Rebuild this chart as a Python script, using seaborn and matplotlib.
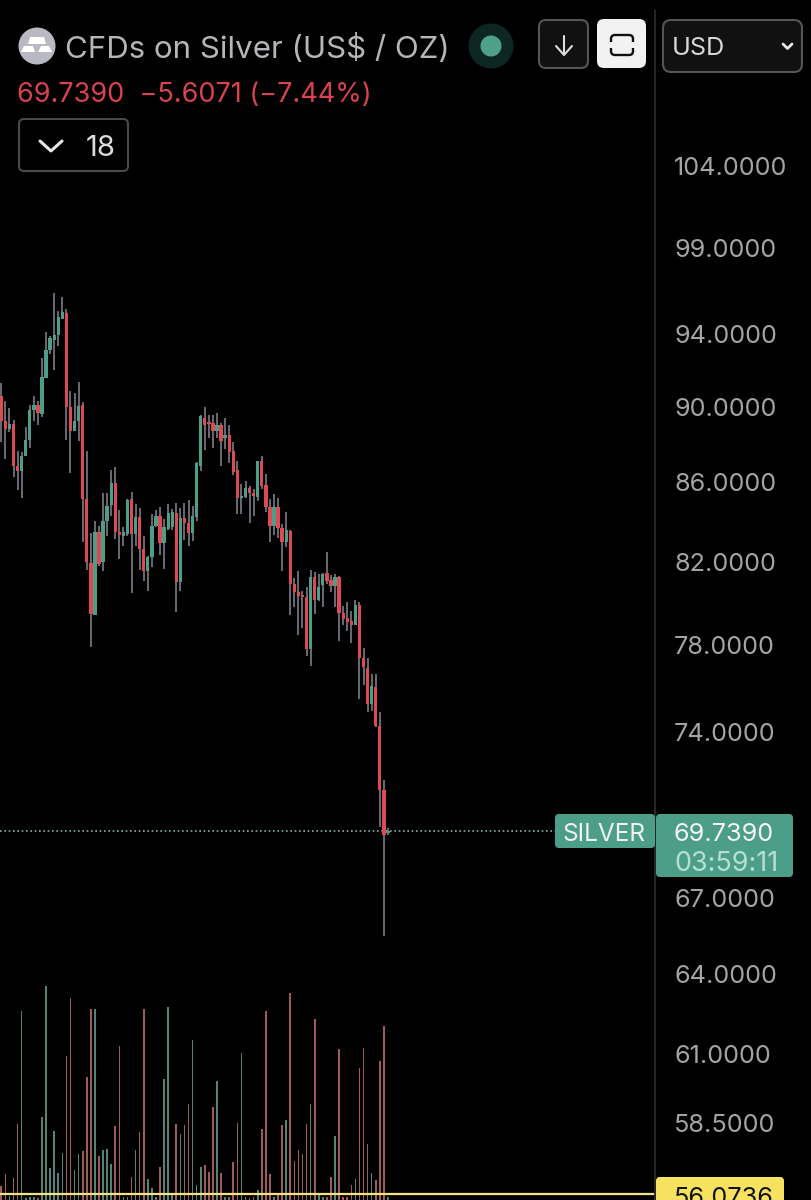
import numpy as np
import pandas as pd
import seaborn as sns
import matplotlib
matplotlib.use("Agg")
import matplotlib.pyplot as plt
from matplotlib.patches import FancyBboxPatch, Circle, Polygon, Rectangle

high = [91.30,90.29,89.93,89.29,87.65,87.56,88.89,90.06,90.56,90.33,
        92.69,94.13,93.89,96.36,95.33,96.13,95.41,90.84,90.75,91.32,
        90.24,87.65,83.40,84.00,83.79,85.47,85.43,86.61,86.78,84.58,
        83.70,85.15,85.52,84.89,84.67,83.28,82.29,84.38,84.58,84.72,
        84.12,84.89,84.63,84.92,84.69,84.92,85.10,84.76,87.04,89.57,
        89.97,89.52,89.57,89.65,89.11,89.39,89.03,88.09,87.13,85.92,
        86.05,85.83,85.66,87.13,87.39,86.44,85.15,85.38,85.20,83.87,
        84.46,83.58,81.19,81.52,80.57,80.73,81.60,81.50,81.38,81.42,
        82.48,81.35,81.38,81.30,79.85,80.04,79.61,80.12,80.01,77.84,
        77.39,76.65,76.65,74.91,71.90,69.86]
low = [88.13,87.22,88.62,86.27,85.62,85.20,87.35,87.77,89.25,89.03,
       89.43,91.58,92.87,91.98,93.32,94.89,88.22,86.47,88.71,88.14,
       82.95,81.58,77.90,79.42,81.79,81.52,83.28,84.29,83.11,82.12,
       82.78,83.28,80.44,82.78,81.58,81.06,80.57,81.71,83.70,82.34,
       81.63,83.57,83.55,79.57,80.57,83.07,82.78,83.03,84.04,86.58,
       87.69,88.32,87.77,88.32,86.87,87.74,86.99,86.35,84.38,84.38,
       85.20,83.92,84.29,85.06,85.66,84.46,82.99,83.33,83.16,81.52,
       82.70,79.40,79.77,78.45,78.81,77.46,76.99,79.45,80.09,79.81,
       80.90,80.49,79.77,78.18,78.94,78.65,78.07,78.94,75.51,76.14,
       74.91,74.96,74.24,69.90,65.46,69.56]
open_ = [90.56,89.25,88.77,89.07,86.82,86.58,87.35,88.22,89.79,90.11,
         89.61,91.58,93.10,93.70,93.94,94.89,95.23,89.97,88.71,89.25,
         90.11,85.16,81.94,79.42,83.48,81.96,84.00,84.85,85.95,83.45,
         83.28,83.37,85.15,83.37,84.21,82.62,81.55,82.24,83.75,84.29,
         82.90,83.62,83.70,84.45,80.98,84.18,83.94,83.42,84.24,86.87,
         89.39,89.16,89.11,88.71,89.03,88.30,88.50,87.61,86.61,85.18,
         85.23,85.71,85.47,85.23,87.09,85.88,84.75,83.79,84.75,83.67,
         82.95,83.50,80.90,80.52,80.38,80.25,77.78,81.22,80.14,80.86,
         81.42,81.09,80.78,81.25,79.52,79.26,79.13,78.94,79.90,77.40,
         76.93,75.27,76.05,74.29,71.47,69.65]
close = [89.20,88.77,89.07,86.82,86.58,87.39,88.22,89.79,90.11,89.66,
         91.61,93.14,93.81,93.94,94.98,95.27,89.97,88.71,89.25,90.04,
         85.15,81.96,79.45,83.48,81.88,84.00,84.80,85.95,83.45,83.33,
         83.48,85.11,83.37,84.21,82.62,81.52,82.24,83.75,84.29,82.90,
         83.70,84.41,84.49,80.98,84.18,83.94,83.42,84.29,86.99,89.48,
         89.03,89.07,88.71,89.02,88.18,88.50,87.60,86.53,85.18,85.27,
         85.71,85.43,85.27,87.09,85.83,84.75,83.79,84.75,83.67,82.95,
         83.55,80.90,80.52,80.33,80.28,77.78,81.22,80.14,80.73,81.38,
         81.06,80.78,81.22,79.50,79.21,79.08,78.94,79.90,77.37,76.94,
         75.27,76.09,74.29,71.47,69.56,69.74]
volume = [14,26,4,22,76,189,2,3,3,2,
          83,214,32,69,27,47,144,202,30,46,
          49,123,191,191,44,50,51,36,74,154,
          3,3,23,50,68,191,21,12,3,33,
          121,193,5,76,66,75,96,160,15,33,
          35,28,93,119,27,3,3,38,77,147,
          3,2,3,10,71,189,26,3,7,75,
          80,207,39,50,46,76,96,181,7,3,
          3,23,64,151,3,3,15,21,132,152,
          56,27,20,139,174,3]
price_ticks = [104, 99, 94, 90, 86, 82, 78, 74, 67, 64, 61, 58.5]
price_labels = ["104.0000", "99.0000", "94.0000", "90.0000", "86.0000", "82.0000",
                "78.0000", "74.0000", "67.0000", "64.0000", "61.0000", "58.5000"]
last_price = 69.7390
high_line = 56.0736

GREEN, RED = "#4c9e88", "#dd4a54"
VGREEN, VRED = "#4c8a7e", "#a8524e"
WICK = "#6e6e7a"
FONT = ["Inter", "DejaVu Sans"]

sns.set_theme(style="dark")
plt.rcParams["font.family"] = FONT

n = len(close)
df = pd.DataFrame({"i": np.arange(n), "high": high, "low": low, "open": open_,
                   "close": close, "volume": volume})
df["dir"] = np.where(df["close"] >= df["open"], "up", "down")

W, H = 811, 1200
fig = plt.figure(figsize=(W / 100, H / 100), dpi=100, facecolor="black")
chart_w = 655 / W
xlim = (-1.3 / 4.07, (655 - 1.3) / 4.07)

# volume pane
vax = fig.add_axes([0, 0, chart_w, 1], facecolor="black")
sns.barplot(data=df, x="i", y="volume", hue="dir", native_scale=True, dodge=False,
            palette={"up": VGREEN, "down": VRED}, width=0.4, legend=False,
            linewidth=0, ax=vax)
vax.set_ylim(0, H)
vax.set_xlim(*xlim)
vax.axis("off")

# candle pane
ax = fig.add_axes([0, 0, chart_w, 1], facecolor="none")
ax.set_yscale("log")
ax.set_ylim(55.87, 114.91)
ax.set_xlim(*xlim)
ax.vlines(df["i"], df["low"], df["high"], color=WICK, lw=1.35, zorder=2)
top = df[["open", "close"]].max(axis=1)
bot = df[["open", "close"]].min(axis=1)
colors = df["dir"].map({"up": GREEN, "down": RED})
ax.bar(df["i"], top - bot, bottom=bot, width=0.82, color=colors, linewidth=0, zorder=3)
ax.axhline(last_price, color="#7fb3a6", lw=1.2, ls=(0, (1, 1.6)), zorder=1)
ax.axhline(high_line, color="#f6e27e", lw=1.6, zorder=4)
ax.set_xticks([])
ax.minorticks_off()
ax.yaxis.tick_right()
ax.set_yticks(price_ticks)
ax.set_yticklabels(price_labels)
ax.tick_params(axis="y", which="major", length=0, pad=13.7, labelsize=18.2,
               labelcolor="#a4a4a6")
ax.tick_params(axis="y", which="minor", length=0)
ax.grid(False)
for s in ax.spines.values():
    s.set_visible(False)
ax.set_xlabel("")
ax.set_ylabel("")

# interface overlay, in image pixels
ui = fig.add_axes([0, 0, 1, 1], facecolor="none")
ui.set_xlim(0, W)
ui.set_ylim(H, 0)
ui.axis("off")


def box(x0, y0, x1, y1, r, face, edge="none", lw=1.5, z=5):
    ui.add_patch(FancyBboxPatch((x0 + r, y0 + r), x1 - x0 - 2 * r, y1 - y0 - 2 * r,
                                boxstyle=f"round,pad={r},rounding_size={r}",
                                fc=face, ec=edge, lw=lw, zorder=z))


ui.plot([655, 655], [10, 1200], color="#2c2c2c", lw=1.3, zorder=4)

# title row
ui.add_patch(Circle((37, 46), 18.5, fc="#b9b9c4", ec="none", zorder=5))
for pts in ([(30, 37), (44, 37), (46, 44), (28, 44)],
            [(21, 52), (35, 52), (33, 46), (24, 46)],
            [(38, 52), (52, 52), (49, 46), (41, 46)]):
    ui.add_patch(Polygon(pts, fc="white", ec="none", zorder=6))
ui.text(65, 46, "CFDs on Silver (US$ / OZ)", color="#b6b6ba", fontsize=22.5,
        va="center_baseline", ha="left", zorder=6)
ui.text(17, 92, "69.7390  \u22125.6071 (\u22127.44%)", color="#d8434f", fontsize=19.5,
        va="center_baseline", ha="left", zorder=6)

box(19, 119, 128, 171, 5, "black", "#4a4a4a")
ui.plot([40, 51, 62], [141, 151, 141], color="#e8e8e8", lw=2.2, zorder=6)
ui.text(101, 145, "18", color="#dcdcdc", fontsize=21, ha="center",
        va="center_baseline", zorder=6)

ui.add_patch(Circle((491, 46), 22.5, fc="#0d2622", ec="none", zorder=5))
ui.add_patch(Circle((491, 46), 10.5, fc="#4fa088", ec="none", zorder=6))

box(539, 20, 588, 68, 7, "#111111", "#555555")
ui.plot([564, 564], [36, 54], color="#dddddd", lw=1.5, zorder=6)
ui.plot([556, 564, 572], [46, 55, 46], color="#dddddd", lw=1.5, zorder=6)

box(597, 19, 646, 68, 7, "#f2f2f2")
box(611, 35, 633, 55, 4, "none", "#111111", lw=1.7, z=6)
ui.add_patch(Rectangle((606, 42), 34, 6, fc="#f2f2f2", ec="none", zorder=7))

box(663, 20, 802, 72, 8, "#111111", "#555555")
ui.text(672, 46, "USD", color="#d8d8d8", fontsize=18.2, ha="left",
        va="center_baseline", zorder=6)
ui.plot([783, 787.5, 792], [44, 48.5, 44], color="#e8e8e8", lw=2, zorder=6)

# last price labels
box(555, 814, 655, 848, 4, GREEN)
ui.text(604.5, 832, "SILVER", color="#f2f2f2", fontsize=17.6, ha="center",
        va="center_baseline", zorder=6)
box(656, 814, 793, 877, 4, GREEN)
ui.text(723.5, 832, "69.7390", color="#f5f5f5", fontsize=18.2, ha="center",
        va="center_baseline", zorder=6)
ui.text(726.5, 861, "03:59:11", color="#b4dfd2", fontsize=19.4, ha="center",
        va="center_baseline", zorder=6)

# high price label, cut by the image edge
box(656, 1177, 784, 1215, 4, "#f6e25f")
ui.text(723.5, 1196, "56.0736", color="#111111", fontsize=18.2, ha="center",
        va="center_baseline", zorder=6)

fig.savefig("out.png", dpi=100, facecolor="black")
